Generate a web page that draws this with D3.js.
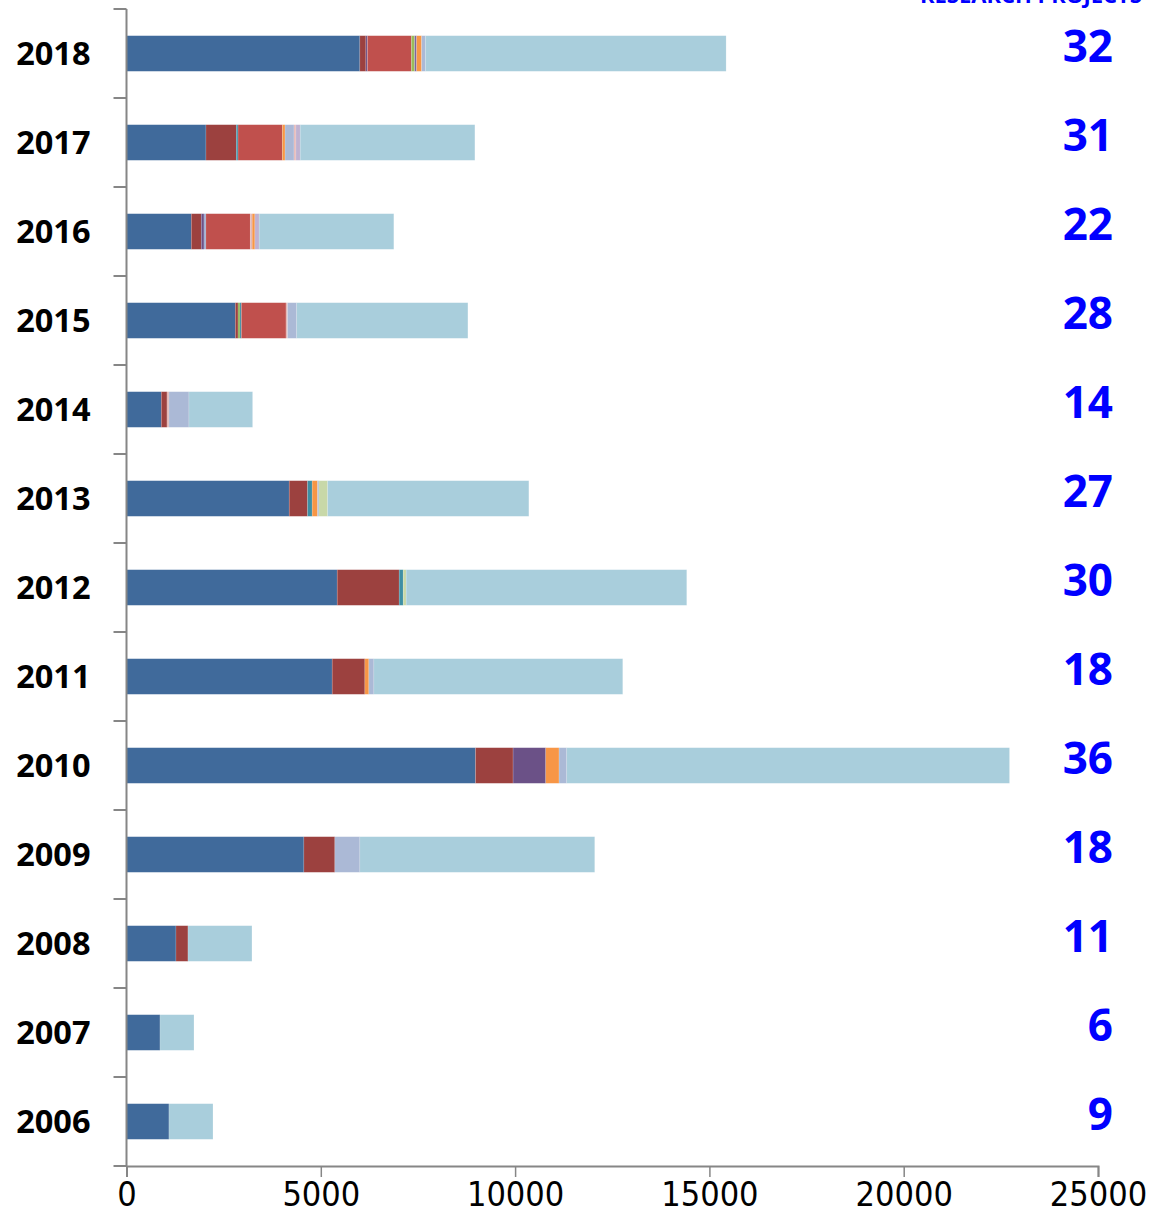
<!DOCTYPE html>
<html>
<head>
<meta charset="utf-8">
<script src="https://cdn.jsdelivr.net/npm/d3@7"></script>
<style>
  html, body { margin: 0; padding: 0; background: #fff; }
  svg { display: block; }
</style>
</head>
<body>
<div id="chart"></div>
<script>
// ---------- Data (top to bottom, as in the picture) ----------
const years = [2018, 2017, 2016, 2015, 2014, 2013, 2012, 2011, 2010, 2009, 2008, 2007, 2006];
const projectCounts = [32, 31, 22, 28, 14, 27, 30, 18, 36, 18, 11, 6, 9];
const xTicks = [0, 5000, 10000, 15000, 20000, 25000];

// stack order left -> right
const seriesNames = ["s01", "s02", "s03", "s04", "s05", "s06", "s07", "s08",
                     "s09", "s10", "s11", "s12", "s13", "s14", "s15", "s16"];
const seriesColors = ["#406a9b", "#9c413f", "#6b5187", "#9aaad0", "#8db255", "#3e8fa4", "#c0504d", "#9bbb59",
                      "#7b64a0", "#e2b3b1", "#f79646", "#abb9d6", "#e6b9b8", "#c0b2d1", "#c8d8a8", "#a9cedc"];

const s01 = [6005, 2045, 1667, 2800, 895, 4187, 5422, 5293, 8981, 4565, 1273, 862, 1093];
const s02 = [155, 780, 257, 70, 147, 473, 1595, 841, 967, 797, 309, 0, 0];
const s03 = [40, 0, 70, 0, 0, 0, 0, 0, 841, 0, 0, 0, 0];
const s04 = [0, 0, 50, 0, 0, 0, 0, 0, 0, 0, 0, 0, 0];
const s05 = [0, 0, 0, 50, 0, 0, 0, 0, 0, 0, 0, 0, 0];
const s06 = [0, 45, 0, 35, 0, 118, 103, 0, 0, 0, 0, 0, 0];
const s07 = [1130, 1140, 1140, 1150, 0, 0, 0, 0, 0, 0, 0, 0, 0];
const s08 = [85, 0, 0, 0, 0, 0, 0, 0, 0, 0, 0, 0, 0];
const s09 = [50, 0, 0, 0, 0, 0, 0, 0, 0, 0, 0, 0, 0];
const s10 = [0, 0, 50, 40, 50, 0, 0, 0, 0, 0, 0, 0, 0];
const s11 = [130, 70, 70, 0, 0, 139, 0, 103, 342, 0, 0, 0, 0];
const s12 = [100, 230, 0, 235, 515, 35, 0, 129, 198, 643, 0, 0, 0];
const s13 = [0, 50, 0, 0, 0, 0, 0, 0, 0, 0, 0, 0, 0];
const s14 = [0, 110, 110, 0, 0, 0, 0, 0, 0, 0, 0, 0, 0];
const s15 = [0, 0, 0, 0, 0, 224, 77, 0, 0, 0, 0, 0, 0];
const s16 = [7735, 4495, 3465, 4405, 1638, 5178, 7220, 6404, 11394, 6044, 1646, 874, 1132];

const seriesValues = [s01, s02, s03, s04, s05, s06, s07, s08, s09, s10, s11, s12, s13, s14, s15, s16];

// ---------- Layout ----------
const W = 1149, H = 1216;
const margin = { top: 9, right: 51, bottom: 50, left: 126.5 };
const innerW = W - margin.left - margin.right;
const innerH = H - margin.top - margin.bottom;

const rows = years.map((yr, i) => {
  const o = { year: yr };
  seriesNames.forEach((k, j) => { o[k] = seriesValues[j][i]; });
  return o;
});

const svg = d3.select("#chart").append("svg")
  .attr("width", W)
  .attr("height", H);

const g = svg.append("g")
  .attr("transform", `translate(${margin.left},${margin.top})`);

const x = d3.scaleLinear().domain([0, 25000]).range([0, innerW]);
const y = d3.scaleBand().domain(years).range([0, innerH])
  .paddingInner(0.6).paddingOuter(0.3);

const color = d3.scaleOrdinal().domain(seriesNames).range(seriesColors);

// ---------- Bars ----------
const stacked = d3.stack().keys(seriesNames)(rows);

g.append("g").attr("class", "layers")
  .selectAll("g.layer")
  .data(stacked)
  .join("g")
  .attr("class", "layer")
  .attr("fill", d => color(d.key))
  .selectAll("rect")
  .data(d => d.filter(p => p[1] - p[0] > 0))
  .join("rect")
  .attr("x", d => x(d[0]))
  .attr("y", d => y(d.data.year))
  .attr("width", d => x(d[1]) - x(d[0]))
  .attr("height", y.bandwidth())
  .attr("stroke", "rgba(255,255,255,0.25)")
  .attr("stroke-width", 0.6);

// ---------- Axes ----------
const axisColor = "#868686";
const step = y.step();
const boundaries = d3.range(years.length + 1).map(i => i * step);

// vertical axis line + ticks at band boundaries
g.append("line")
  .attr("x1", 0).attr("x2", 0)
  .attr("y1", 0).attr("y2", innerH)
  .attr("stroke", axisColor).attr("stroke-width", 2);

g.append("g").selectAll("line")
  .data(boundaries)
  .join("line")
  .attr("x1", -13).attr("x2", 0)
  .attr("y1", d => d).attr("y2", d => d)
  .attr("stroke", axisColor).attr("stroke-width", 2);

// year labels
g.append("g").selectAll("text")
  .data(years)
  .join("text")
  .attr("x", -36)
  .attr("y", d => y(d) + y.bandwidth() / 2)
  .attr("dy", "0.36em")
  .attr("text-anchor", "end")
  .style("font-family", "'Open Sans', 'Liberation Sans', sans-serif")
  .style("font-weight", 700)
  .style("font-size", "32.5px")
  .style("fill", "#000")
  .text(d => d);

// bottom axis
const xAxis = g.append("g")
  .attr("transform", `translate(0,${innerH})`)
  .call(d3.axisBottom(x).tickValues(xTicks).tickSize(11).tickPadding(5).tickFormat(d3.format("d")));

xAxis.select(".domain").attr("stroke", axisColor).attr("stroke-width", 2);
xAxis.selectAll(".tick line").attr("stroke", axisColor).attr("stroke-width", 1.5);
xAxis.selectAll(".tick text")
  .style("font-family", "'Liberation Sans Narrow', 'DejaVu Sans Condensed', sans-serif")
  .style("font-size", "34px")
  .style("fill", "#000");

// ---------- Right-hand project counts ----------
g.append("g").selectAll("text")
  .data(years.map((yr, i) => ({ year: yr, n: projectCounts[i] })))
  .join("text")
  .attr("x", innerW + 15)
  .attr("y", d => y(d.year) + y.bandwidth() / 2 - 7)
  .attr("dy", "0.36em")
  .attr("text-anchor", "end")
  .style("font-family", "'Open Sans', 'Liberation Sans', sans-serif")
  .style("font-weight", 700)
  .style("font-size", "44px")
  .style("fill", "#0000ff")
  .text(d => d.n);

// header, cut off by the top edge
svg.append("text")
  .attr("x", 920)
  .attr("y", 3)
  .style("font-family", "'Open Sans', 'Liberation Sans', sans-serif")
  .style("font-weight", 700)
  .style("font-size", "22px")
  .style("fill", "#0000ff")
  .text("RESEARCH PROJECTS");
</script>
</body>
</html>
